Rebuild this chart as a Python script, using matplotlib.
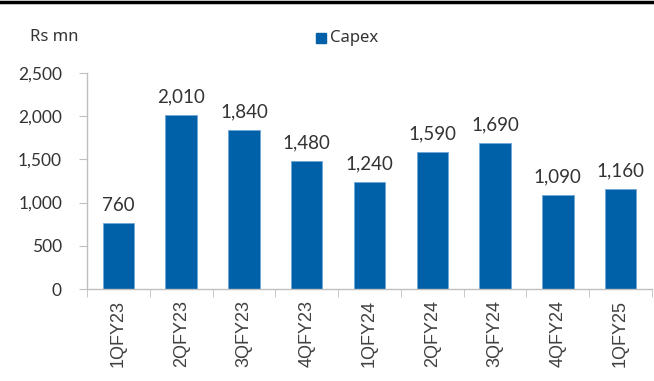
import matplotlib
matplotlib.use("Agg")
import matplotlib.pyplot as plt
from matplotlib.lines import Line2D
from matplotlib.patches import Rectangle

categories = ["1QFY23", "2QFY23", "3QFY23", "4QFY23", "1QFY24", "2QFY24", "3QFY24", "4QFY24", "1QFY25"]
capex = [760, 2010, 1840, 1480, 1240, 1590, 1690, 1090, 1160]
yticks = [0, 500, 1000, 1500, 2000, 2500]

bar_color = "#0060A8"
text_color = "#333333"
spine_color = "#BFBFBF"

fig = plt.figure(figsize=(6.54, 3.81), dpi=100)
ax = fig.add_axes([87/654, 1 - 289/381, (652-87)/654, (289-73)/381])

x = list(range(len(categories)))
ax.bar(x, capex, width=0.5, color=bar_color, edgecolor="#6FA7D6", linewidth=0.6, label="Capex")
for xi, v in zip(x, capex):
    ax.text(xi, v + 110, f"{v:,}", ha="center", va="bottom", fontsize=13.5,
            family="Lato", color=text_color)

ax.set_xlim(-0.5, len(categories) - 0.5)
ax.set_ylim(0, 2500)
ax.set_yticks(yticks)
ax.set_yticklabels([f"{t:,}" for t in yticks], family="Lato", fontsize=12.5, color=text_color)
ax.set_xticks(x)
ax.set_xticklabels(categories, rotation=90, family="Liberation Sans", fontsize=13, color="#404040")
ax.set_xticks([i + 0.5 for i in range(-1, len(categories))], minor=True)
ax.tick_params(axis="x", which="major", length=0, pad=8)
ax.tick_params(axis="x", which="minor", length=6, color=spine_color, direction="out")
ax.tick_params(axis="y", length=6, color=spine_color, pad=12)
for s in ["top", "right"]:
    ax.spines[s].set_visible(False)
for s in ["left", "bottom"]:
    ax.spines[s].set_color(spine_color)
    ax.spines[s].set_linewidth(1.0)

fig.text(30/654, 1 - 37/381, "Rs mn", ha="left", va="center", fontsize=12,
         family="Noto Sans", color=text_color)
fig.patches.append(Rectangle((316/654, 1 - 43/381), 10/654, 10/381,
                             transform=fig.transFigure, color=bar_color))
fig.text(330/654, 1 - 38/381, "Capex", ha="left", va="center", fontsize=12,
         family="Noto Sans", color=text_color)

fig.add_artist(Line2D([0, 1], [1 - 1.5/381, 1 - 1.5/381], transform=fig.transFigure,
                      color="black", linewidth=2.5))

fig.savefig("out.png", dpi=100)
